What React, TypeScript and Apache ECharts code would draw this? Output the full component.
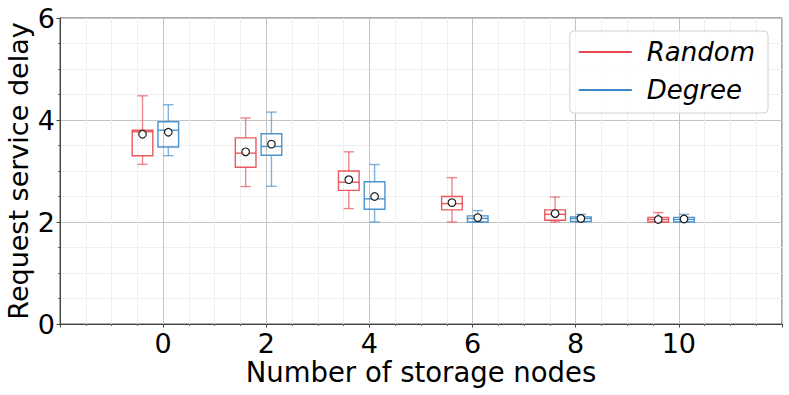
import React, { useEffect, useRef } from "react";
import * as echarts from "echarts";

const categories = [0, 2, 4, 6, 8, 10];
const xTickLabels = ["0", "2", "4", "6", "8", "10"];

// Random strategy: whisker low, Q1, median, Q3, whisker high, mean
const randomLow = [3.13, 2.695, 2.263, 2.0, 2.0, 2.0];
const randomQ1 = [3.3, 3.075, 2.62, 2.237, 2.035, 2.0];
const randomMedian = [3.77, 3.35, 2.78, 2.36, 2.15, 2.05];
const randomQ3 = [3.8, 3.65, 3.0, 2.5, 2.237, 2.09];
const randomHigh = [4.475, 4.04, 3.376, 2.87, 2.49, 2.185];
const randomMean = [3.72, 3.376, 2.83, 2.38, 2.165, 2.05];

// Degree strategy
const degreeLow = [3.3, 2.7, 2.0, 2.0, 2.0, 2.0];
const degreeQ1 = [3.47, 3.31, 2.25, 2.0, 2.01, 2.0];
const degreeMedian = [3.8, 3.48, 2.453, 2.07, 2.07, 2.05];
const degreeQ3 = [3.965, 3.73, 2.79, 2.12, 2.1, 2.09];
const degreeHigh = [4.3, 4.155, 3.127, 2.224, 2.15, 2.15];
const degreeMean = [3.76, 3.527, 2.5, 2.086, 2.07, 2.06];

const RED = "#e8474f";
const BLUE = "#3a88c9";
const FONT = "DejaVu Sans";

function buildData(low: number[], q1: number[], med: number[], q3: number[], high: number[], mean: number[]) {
  return categories.map((c, i) => [c, low[i], q1[i], med[i], q3[i], high[i], mean[i]]);
}

function makeRenderItem(offset: number, color: string) {
  return (params: any, api: any) => {
    const x = api.value(0) + offset;
    const pLow = api.coord([x, api.value(1)]);
    const pQ1 = api.coord([x, api.value(2)]);
    const pMed = api.coord([x, api.value(3)]);
    const pQ3 = api.coord([x, api.value(4)]);
    const pHigh = api.coord([x, api.value(5)]);
    const pMean = api.coord([x, api.value(6)]);
    const w = api.size([0.4, 0])[0];
    const cx = pMed[0];
    const half = w / 2;
    const cap = w / 4;
    const whiskerStyle = { stroke: color, lineWidth: 1.4, opacity: 0.65 };
    const boxStyle = { stroke: color, lineWidth: 1.4, fill: "none", opacity: 0.9 };
    return {
      type: "group",
      children: [
        { type: "line", shape: { x1: cx, y1: pQ3[1], x2: cx, y2: pHigh[1] }, style: whiskerStyle },
        { type: "line", shape: { x1: cx, y1: pQ1[1], x2: cx, y2: pLow[1] }, style: whiskerStyle },
        { type: "line", shape: { x1: cx - cap, y1: pHigh[1], x2: cx + cap, y2: pHigh[1] }, style: whiskerStyle },
        { type: "line", shape: { x1: cx - cap, y1: pLow[1], x2: cx + cap, y2: pLow[1] }, style: whiskerStyle },
        {
          type: "rect",
          shape: { x: cx - half, y: pQ3[1], width: w, height: pQ1[1] - pQ3[1] },
          style: boxStyle,
        },
        { type: "line", shape: { x1: cx - half, y1: pMed[1], x2: cx + half, y2: pMed[1] }, style: boxStyle },
        {
          type: "circle",
          shape: { cx: pMean[0], cy: pMean[1], r: 3.8 },
          style: { fill: "#ffffff", stroke: "#222222", lineWidth: 1.2 },
          z2: 10,
        },
      ],
    };
  };
}

export default function App() {
  const ref = useRef<HTMLDivElement>(null);
  useEffect(() => {
    if (!ref.current) return;
    const chart = echarts.init(ref.current, undefined, { renderer: "svg" });
    const axisLabelStyle = { color: "#000", fontSize: 27, fontFamily: FONT };
    chart.setOption({
      animation: false,
      grid: {
        left: 60,
        right: 7,
        top: 18,
        bottom: 71,
        containLabel: false,
        outerBoundsMode: "none",
        show: true,
        borderColor: "#555",
        borderWidth: 1,
        backgroundColor: "transparent",
      },
      legend: {
        orient: "vertical",
        right: 21,
        top: 31,
        itemWidth: 53,
        itemHeight: 2,
        itemGap: 12,
        padding: [8, 13, 10, 9],
        borderColor: "#d0d0d0",
        borderWidth: 1,
        borderRadius: 4,
        backgroundColor: "rgba(255,255,255,0.85)",
        textStyle: { fontSize: 26, fontStyle: "italic", fontFamily: FONT, color: "#000", padding: [0, 0, 0, 10] },
        data: [
          { name: "Random", icon: "rect", itemStyle: { color: RED } },
          { name: "Degree", icon: "rect", itemStyle: { color: BLUE } },
        ],
      },
      xAxis: {
        type: "value",
        min: -2,
        max: 12,
        interval: 2,
        name: "Number of storage nodes",
        nameLocation: "middle",
        nameGap: 34,
        nameMoveOverlap: false,
        nameTextStyle: { fontSize: 27.5, fontFamily: FONT, color: "#000" },
        axisLine: { show: true, onZero: false, lineStyle: { color: "#444", width: 1 } },
        axisTick: { show: true, length: 3.5, lineStyle: { color: "#444" } },
        minorTick: { show: true, splitNumber: 4, length: 2, lineStyle: { color: "#666" } },
        axisLabel: {
          ...axisLabelStyle,
          margin: 6,
          formatter: (v: number) => {
            const i = categories.indexOf(v);
            return i >= 0 ? xTickLabels[i] : "";
          },
        },
        splitLine: { show: true, lineStyle: { color: "#c4c4c4", width: 1 } },
        minorSplitLine: { show: true, lineStyle: { color: "#efefef", width: 1 } },
      },
      yAxis: {
        type: "value",
        min: 0,
        max: 6,
        interval: 2,
        name: "Request service delay",
        nameLocation: "middle",
        nameGap: 28,
        nameMoveOverlap: false,
        nameTextStyle: { fontSize: 27, fontFamily: FONT, color: "#000" },
        axisLine: { show: true, onZero: false, lineStyle: { color: "#444", width: 1 } },
        axisTick: { show: true, length: 3.5, lineStyle: { color: "#444" } },
        minorTick: { show: true, splitNumber: 4, length: 2, lineStyle: { color: "#666" } },
        axisLabel: { ...axisLabelStyle, margin: 5 },
        splitLine: { show: true, lineStyle: { color: "#c4c4c4", width: 1 } },
        minorSplitLine: { show: true, lineStyle: { color: "#efefef", width: 1 } },
      },
      series: [
        {
          name: "Random",
          type: "custom",
          itemStyle: { color: RED },
          renderItem: makeRenderItem(-0.4, RED),
          encode: { x: 0, y: [1, 2, 3, 4, 5, 6] },
          data: buildData(randomLow, randomQ1, randomMedian, randomQ3, randomHigh, randomMean),
          clip: false,
        },
        {
          name: "Degree",
          type: "custom",
          itemStyle: { color: BLUE },
          renderItem: makeRenderItem(0.1, BLUE),
          encode: { x: 0, y: [1, 2, 3, 4, 5, 6] },
          data: buildData(degreeLow, degreeQ1, degreeMedian, degreeQ3, degreeHigh, degreeMean),
          clip: false,
        },
      ],
    });
    return () => chart.dispose();
  }, []);
  return <div ref={ref} style={{ width: 789, height: 395, position: "absolute", left: 0, top: 0 }} />;
}
